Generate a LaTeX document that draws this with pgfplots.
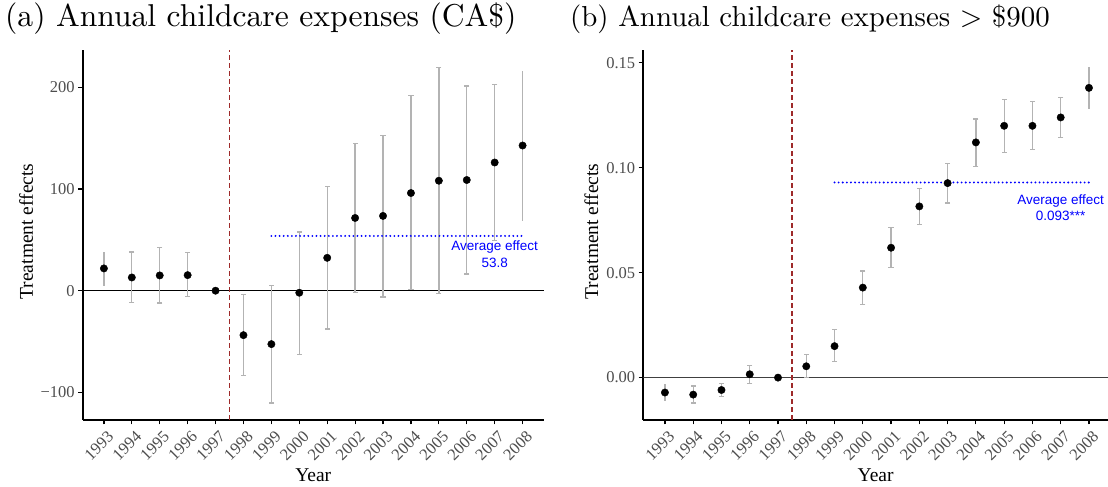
\documentclass[border=0pt]{standalone}
\usepackage{fontspec}
\usepackage{graphicx}
\usepackage{pgfplots}
\usepackage{pgfplotstable}
\pgfplotsset{compat=1.18}
\newfontfamily\serifT{Liberation Serif}
\newfontfamily\sansA{Liberation Sans}
\definecolor{gray30}{HTML}{4D4D4D}
\definecolor{gray70}{HTML}{B3B3B3}
\definecolor{vred}{HTML}{9E2A2A}

% Panel (a): points
\pgfplotstableread{
x y
1993 21.9
1994 13.0
1995 15.0
1996 15.3
1997 0.0
1998 -43.7
1999 -52.5
2000 -2.0
2001 32.3
2002 71.5
2003 73.5
2004 96.0
2005 108.1
2006 108.8
2007 126.0
2008 142.7
}\ptA
% Panel (a): confidence intervals (ep = upper - y, em = y - lower)
\pgfplotstableread{
x y ep em
1993 21.9 16.3 17.4
1994 13.0 24.9 24.8
1995 15.0 27.4 27.1
1996 15.3 21.9 20.8
1998 -43.7 39.8 39.6
1999 -52.5 57.4 57.9
2000 -2.0 59.8 60.4
2001 32.3 70.0 70.0
2002 71.5 72.9 73.5
2003 73.5 79.1 79.7
2004 96.0 96.1 95.0
2005 108.1 111.5 111.1
2006 108.8 92.5 92.5
2007 126.0 76.5 76.5
2008 142.7 73.6 73.8
}\errA
% Panel (a): interval ends that carry a cap
\pgfplotstableread{
x lo hi
1994 -11.8 37.9
1995 -12.1 42.4
1996 -5.5 37.2
1998 -83.3 -3.9
1999 -110.4 4.9
2000 -62.4 57.8
2001 -37.7 102.3
2002 -2.0 144.4
2003 -6.2 152.6
2004 1.0 192.1
2005 -3.0 219.6
2006 16.3 201.3
2007 49.5 202.5
}\capA

% Panel (b): points
\pgfplotstableread{
x y
1993 -0.0071
1994 -0.0081
1995 -0.0059
1996 0.0016
1997 0.0000
1998 0.0054
1999 0.0150
2000 0.0429
2001 0.0619
2002 0.0816
2003 0.0927
2004 0.1121
2005 0.1200
2006 0.1200
2007 0.1240
2008 0.1381
}\ptB
\pgfplotstableread{
x y ep em
1993 -0.0071 0.0042 0.0042
1994 -0.0081 0.0041 0.0040
1995 -0.0059 0.0032 0.0030
1996 0.0016 0.0043 0.0045
1998 0.0054 0.0056 0.0055
1999 0.0150 0.0079 0.0074
2000 0.0429 0.0079 0.0079
2001 0.0619 0.0095 0.0095
2002 0.0816 0.0086 0.0087
2003 0.0927 0.0095 0.0095
2004 0.1121 0.0112 0.0114
2005 0.1200 0.0126 0.0127
2006 0.1200 0.0115 0.0114
2007 0.1240 0.0095 0.0095
2008 0.1381 0.0100 0.0101
}\errB
\pgfplotstableread{
x lo hi
1994 -0.0121 -0.0040
1995 -0.0089 -0.0027
1996 -0.0029 0.0059
1998 -0.0001 0.0110
1999 0.0076 0.0229
2000 0.0350 0.0508
2001 0.0524 0.0714
2002 0.0729 0.0902
2003 0.0832 0.1022
2004 0.1007 0.1233
2005 0.1073 0.1326
2006 0.1086 0.1315
2007 0.1145 0.1335
}\capB

\pgfplotsset{
  panel/.style={
    scale only axis,
    height=369.3pt,
    axis x line*=bottom, axis y line*=left,
    axis line style={line width=1.8pt, -},
    tick align=outside,
    major tick length=4.6pt,
    tick style={line width=1.2pt, black},
    minor tick num=0,
    xtick={1993,1994,1995,1996,1997,1998,1999,2000,2001,2002,2003,2004,2005,2006,2007,2008},
    xticklabels={1993,1994,1995,1996,1997,1998,1999,2000,2001,2002,2003,2004,2005,2006,2007,2008},
    x tick label style={font=\serifT\fontsize{16.5}{16.5}\selectfont, text=gray30, rotate=45, anchor=north east, inner sep=1pt, xshift=-1pt, yshift=-5pt},
    y tick label style={font=\serifT\fontsize{16.5}{16.5}\selectfont, text=gray30},
    xlabel={Year}, ylabel={Treatment effects},
    label style={font=\serifT\fontsize{19.5}{20}\selectfont, text=black},
    xlabel style={at={(axis description cs:0.5,-0.1670)}, anchor=base},
  },
  ebar/.style={only marks, mark=none, forget plot,
    error bars/.cd, y dir=both, y explicit, error mark=none,
    error bar style={draw=gray70, line width=1.3pt}},
  ecap/.style={only marks, mark=-, mark size=2.6pt, forget plot,
    mark options={draw=gray70, line width=1.3pt}},
  pts/.style={only marks, mark=*, mark size=3.7pt, black, forget plot},
  avg/.style={blue, line width=2.1pt, line cap=round, dash pattern=on 0pt off 4.1pt, forget plot},
  zline/.style={line width=1.3pt, forget plot},
  vline/.style={vred, line width=1.7pt, dash pattern=on 4.5pt off 3.5pt, forget plot},
}
\tikzset{note/.style={font=\sansA\fontsize{13.5}{16.5}\selectfont, text=blue, align=center}}

\begin{document}
\begin{tikzpicture}
\path[use as bounding box] (0,0) rectangle (1108pt,487pt);

\node[anchor=base west, inner sep=0pt] at (5pt,460.5pt)
  {\scalebox{3.16}{\fontsize{10}{12}\selectfont (a) Annual childcare expenses (CA\$)}};
\node[anchor=base west, inner sep=0pt] at (569.9pt,460.5pt)
  {\scalebox{2.89}{\fontsize{10}{12}\selectfont (b) Annual childcare expenses $>$ \$900}};

% ---------------- Panel (a)
\begin{axis}[panel,
  at={(82.7pt,67.2pt)}, anchor=south west,
  width=461.1pt,
  xmin=1992.24, xmax=2008.76,
  ymin=-126.9, ymax=236.1,
  ytick={-100,0,100,200},
  yticklabels={−100,0,100,200},
  ylabel style={at={(axis description cs:-0.1078,0.51)}, anchor=base},
]
\addplot[zline, black] coordinates {(1992.24,0) (2008.76,0)};
\addplot[vline] coordinates {(1997.5,-126.9) (1997.5,236.1)};
\addplot[ebar] table[x=x, y=y, y error plus=ep, y error minus=em] {\errA};
\addplot[ecap] table[x=x, y=lo] {\capA};
\addplot[ecap] table[x=x, y=hi] {\capA};
\addplot[pts] table[x=x, y=y] {\ptA};
\addplot[avg] coordinates {(1999,53.8) (2008,53.8)};
\node[note] at (axis cs:2007,36) {Average effect\\53.8};
\end{axis}

% ---------------- Panel (b)
\begin{axis}[panel,
  at={(643.3pt,67.2pt)}, anchor=south west,
  width=464.6pt,
  xmin=1992.235, xmax=2008.67,
  ymin=-0.0201, ymax=0.1559,
  ytick={0,0.05,0.10,0.15},
  yticklabels={0.00,0.05,0.10,0.15},
  ylabel style={at={(axis description cs:-0.0975,0.51)}, anchor=base},
]
\addplot[zline, black!75] coordinates {(1992.235,0) (2008.67,0)};
\addplot[vline] coordinates {(1997.5,-0.0201) (1997.5,0.1559)};
\addplot[ebar] table[x=x, y=y, y error plus=ep, y error minus=em] {\errB};
\addplot[ecap] table[x=x, y=lo] {\capB};
\addplot[ecap] table[x=x, y=hi] {\capB};
\addplot[pts] table[x=x, y=y] {\ptB};
\addplot[avg] coordinates {(1999,0.093) (2008,0.093)};
\node[note] at (axis cs:2007,0.081) {Average effect\\0.093***};
\end{axis}
\end{tikzpicture}
\end{document}
